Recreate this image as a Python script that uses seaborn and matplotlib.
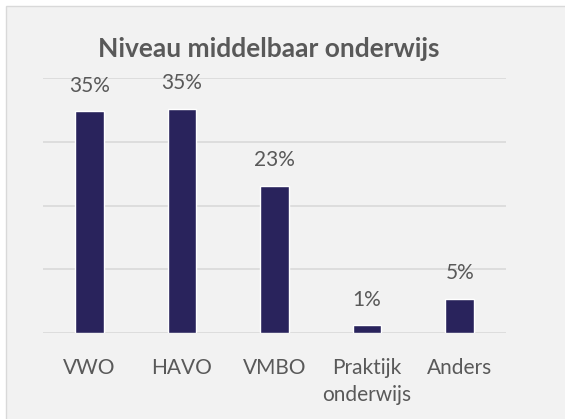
import matplotlib
matplotlib.use('Agg')
import pandas as pd
import seaborn as sns
import matplotlib.pyplot as plt
from matplotlib.patches import Rectangle

# Chart data
categories = ['VWO', 'HAVO', 'VMBO', 'Praktijk\nonderwijs', 'Anders']
percentages = [34.8, 35.2, 23.1, 1.2, 5.4]
title = 'Niveau middelbaar onderwijs'

BAR_COLOR = '#29235c'
TEXT_COLOR = '#595959'
BG_COLOR = '#f2f2f2'

df = pd.DataFrame({'niveau': categories, 'pct': percentages})

sns.set_theme(style='white')
plt.rcParams['font.family'] = ['Lato', 'DejaVu Sans']

fig = plt.figure(figsize=(5.65, 4.19), dpi=100)
fig.patch.set_facecolor('white')
# grey chart area with thin border, offset from top-left
fig.patches.append(Rectangle((6 / 565, -0.01), 1.02, (419 - 6) / 419 + 0.01,
                             transform=fig.transFigure, facecolor=BG_COLOR,
                             edgecolor='#d9d9d9', linewidth=1, zorder=-10))

ax = fig.add_axes([43 / 565, 1 - 333 / 419, (506 - 43) / 565, (333 - 78) / 419])
ax.set_facecolor('none')

sns.barplot(data=df, x='niveau', y='pct', color=BAR_COLOR, width=0.31,
            saturation=1, ax=ax, zorder=3)

ax.set_ylim(0, 40)
ax.set_yticks([0, 10, 20, 30, 40])
ax.yaxis.grid(True, color='#d9d9d9', linewidth=1.2)
ax.set_axisbelow(True)
ax.tick_params(axis='y', left=False, labelleft=False)
ax.tick_params(axis='x', length=0, pad=18, labelsize=15, labelcolor=TEXT_COLOR)
for lbl in ax.get_xticklabels():
    lbl.set_linespacing(1.45)
for s in ax.spines.values():
    s.set_visible(False)
ax.set_xlabel('')
ax.set_ylabel('')

for i, v in enumerate(percentages):
    ax.annotate(f'{round(v)}%', (i, v), xytext=(0, 11), textcoords='offset points',
                ha='center', va='bottom', fontsize=15, color=TEXT_COLOR)

fig.text(269 / 565, 1 - 49 / 419, title, ha='center', va='center',
         fontsize=19, fontweight='bold', color=TEXT_COLOR)

fig.savefig('out.png', dpi=100)
